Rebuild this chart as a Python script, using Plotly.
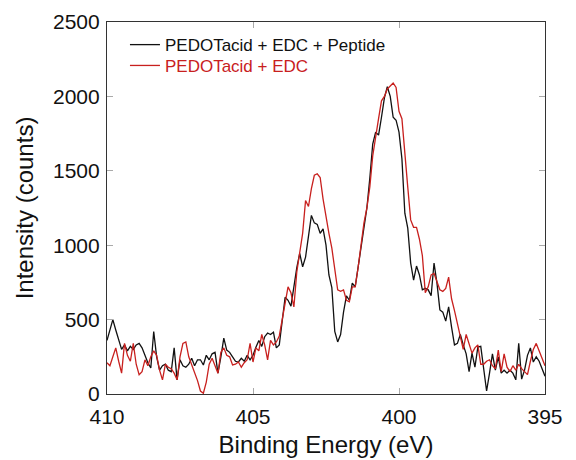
import numpy as np
import plotly.graph_objects as go

# Binding energy axis (eV), 0.1 eV steps from 410 down to 395
energy = [round(410 - 0.1 * i, 1) for i in range(151)]

peptide = [
    360, 430, 500, 430, 360, 300, 330, 290, 320, 300,
    330, 340, 310, 260, 210, 175, 420, 250, 160, 190,
    200, 160, 150, 310, 95, 230, 190, 180, 200, 240,
    190, 230, 230, 195, 260, 230, 270, 280, 140, 250,
    375, 295, 280, 250, 220, 215, 240, 220, 260, 230,
    260, 315, 360, 320, 385, 410, 400, 415, 310, 330,
    500, 650, 630, 590, 720, 850, 945, 855, 920, 1050,
    1200, 1150, 1140, 1080, 1110, 1000, 800, 715, 420, 350,
    400, 550, 660, 630, 745, 720, 855, 990, 1100, 1250,
    1450, 1680, 1760, 1740, 1860, 1990, 2065, 2000, 1860, 1840,
    1760, 1580, 1215, 1115, 880, 765, 860, 800, 700, 710,
    700, 660, 880, 745, 565, 550, 490, 585, 450, 330,
    340, 400, 330, 270, 150, 275, 180, 315, 320, 160,
    20, 140, 270, 160, 250, 140, 160, 140, 160, 140,
    95, 340, 100, 160, 260, 310, 215, 250, 220, 170,
    120,
]

edc = [
    210, 190, 250, 310, 220, 140, 340, 260, 220, 340,
    200, 130, 150, 230, 190, 250, 290, 260, 160, 95,
    200, 180, 170, 140, 95, 250, 340, 350, 250, 200,
    140, 90, 20, 5, 80, 200, 240, 195, 140, 280,
    310, 260, 250, 195, 200, 215, 180, 210, 230, 340,
    215, 310, 290, 400, 330, 230, 360, 330, 350, 390,
    500, 630, 720, 680, 585, 820, 950, 1080, 1300, 1260,
    1380, 1470, 1480, 1455, 1310, 1180, 1080, 980, 850, 700,
    690, 700, 630, 620, 720, 720, 850, 1000, 1150, 1250,
    1390, 1600, 1740, 1850, 1970, 2000, 2050, 2070, 2090, 2060,
    1900, 1850, 1600, 1390, 1170, 1120, 1120, 1040, 930, 680,
    720, 800, 810, 760, 700, 690, 710, 785, 640, 560,
    470, 380, 300, 400, 340, 275, 310, 330, 200, 200,
    220, 230, 190, 170, 295, 150, 270, 180, 150, 190,
    160, 200, 170, 150, 130, 220, 300, 340, 290, 250,
    190,
]

series_names = ["PEDOTacid + EDC + Peptide", "PEDOTacid + EDC"]
series_colors = ["#111111", "#c8201e"]
y_ticks = [0, 500, 1000, 1500, 2000, 2500]
x_ticks = [410, 405, 400, 395]

FONT = "Liberation Sans, Arial, Helvetica, sans-serif"

fig = go.Figure()
for k, (name, vals, col) in enumerate(zip(series_names, [peptide, edc], series_colors)):
    fig.add_trace(go.Scatter(
        x=energy, y=vals, mode="lines",
        name=f"<span style='color:{col}'>{name}</span>",
        line=dict(color=col, width=1.3),
        legend="legend" if k == 0 else "legend2",
    ))

axis_common = dict(
    showline=True, linecolor="#333333", linewidth=1.2, mirror="ticks",
    ticks="inside", ticklen=6, tickcolor="#aaaaaa", tickwidth=1,
    showgrid=False, zeroline=False, automargin=False,
    tickfont=dict(family=FONT, size=21, color="#111111"),
)

legend_common = dict(
    x=0.041, xanchor="left", yanchor="middle",
    bgcolor="rgba(0,0,0,0)", borderwidth=0,
    font=dict(family=FONT, size=17, color="#111111"),
    itemwidth=30,
)

fig.update_layout(
    width=576, height=460,
    margin=dict(l=107, r=31, t=22, b=66, autoexpand=False),
    paper_bgcolor="white", plot_bgcolor="white",
    font=dict(family=FONT, color="#111111"),
    showlegend=True,
    legend=dict(y=0.938, **legend_common),
    legend2=dict(y=0.882, **legend_common),
    xaxis=dict(
        range=[410, 395], tickvals=x_ticks, ticktext=[str(v) for v in x_ticks],
        ticklabelstandoff=4,
        title=dict(text="Binding Energy (eV)", font=dict(family=FONT, size=24, color="#111111"), standoff=8),
        **axis_common,
    ),
    yaxis=dict(
        range=[0, 2500], tickvals=y_ticks, ticktext=[str(v) for v in y_ticks],
        ticklabelstandoff=2,
        title=dict(text="Intensity (counts)", font=dict(family=FONT, size=24, color="#111111"), standoff=12),
        **axis_common,
    ),
)

fig.write_html("out.html")
